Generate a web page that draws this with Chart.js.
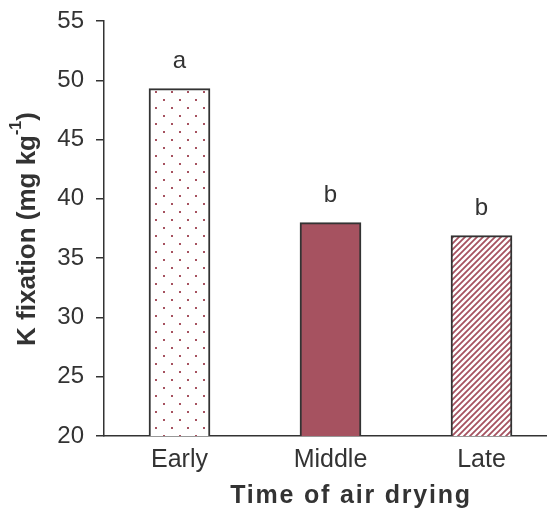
<!DOCTYPE html>
<html lang="en">
<head>
    <meta charset="UTF-8">
    <title>K fixation</title>
    <script src="https://cdn.jsdelivr.net/npm/chart.js"></script>
    <style>
        body { margin: 0; overflow: hidden; background: #fff; }
    </style>
</head>
<body>
    <canvas id="barChart" width="557" height="513"></canvas>
    <script>
        // data
        const categories = ['Early', 'Middle', 'Late'];
        const kFixation = [49.3, 38.0, 36.9];
        const letters = ['a', 'b', 'b'];
        const yTicks = [20, 25, 30, 35, 40, 45, 50, 55];

        const ink = '#333333';
        const red = '#A65260';
        const fam = '"Liberation Sans", Arial, sans-serif';

        // dotted fill
        function dotPattern() {
            const c = document.createElement('canvas');
            c.width = 16; c.height = 16;
            const g = c.getContext('2d');
            g.fillStyle = '#fff';
            g.fillRect(0, 0, 16, 16);
            g.fillStyle = red;
            g.fillRect(3, 3, 2, 2);
            g.fillRect(11, 11, 2, 2);
            return g.createPattern(c, 'repeat');
        }

        // diagonal hatch
        function hatchPattern() {
            const s = 6;
            const c = document.createElement('canvas');
            c.width = s; c.height = s;
            const g = c.getContext('2d');
            g.fillStyle = '#fff';
            g.fillRect(0, 0, s, s);
            g.strokeStyle = red;
            g.lineWidth = 1.8;
            g.beginPath();
            g.moveTo(0, s); g.lineTo(s, 0);
            g.moveTo(-1, 1); g.lineTo(1, -1);
            g.moveTo(s - 1, s + 1); g.lineTo(s + 1, s - 1);
            g.stroke();
            return g.createPattern(c, 'repeat');
        }

        // letters over bars + axis titles
        const extras = {
            id: 'extras',
            afterDatasetsDraw(chart) {
                const ctx = chart.ctx;
                const meta = chart.getDatasetMeta(0);
                ctx.save();
                ctx.fillStyle = ink;
                ctx.font = '24px ' + fam;
                ctx.textAlign = 'center';
                ctx.textBaseline = 'alphabetic';
                meta.data.forEach((bar, i) => {
                    ctx.fillText(letters[i], bar.x, bar.y - 21);
                });

                // x title
                ctx.font = 'bold 25px ' + fam;
                ctx.letterSpacing = '1.8px';
                ctx.textBaseline = 'middle';
                ctx.fillText('Time of air drying', 351, 496);

                // y title with superscript
                ctx.letterSpacing = '0px';
                ctx.translate(28, 229);
                ctx.rotate(-Math.PI / 2);
                const main = 'K fixation (mg kg';
                const sup = '-1';
                const tail = ')';
                const f1 = 'bold 26px ' + fam;
                const f2 = 'bold 16px ' + fam;
                ctx.font = f1;
                const w1 = ctx.measureText(main).width;
                const w3 = ctx.measureText(tail).width;
                ctx.font = f2;
                const w2 = ctx.measureText(sup).width;
                let x = -(w1 + w2 + w3) / 2;
                ctx.textAlign = 'left';
                ctx.font = f1;
                ctx.fillText(main, x, 0);
                x += w1;
                ctx.font = f2;
                ctx.fillText(sup, x, -11);
                x += w2;
                ctx.font = f1;
                ctx.fillText(tail, x, 0);
                ctx.restore();
            }
        };

        const ctx = document.getElementById('barChart').getContext('2d');
        new Chart(ctx, {
            type: 'bar',
            data: {
                labels: categories,
                datasets: [{
                    data: kFixation,
                    backgroundColor: [dotPattern(), red, hatchPattern()],
                    borderColor: ink,
                    borderWidth: 2,
                    borderSkipped: false,
                    barThickness: 61
                }]
            },
            options: {
                responsive: false,
                animation: false,
                layout: { padding: { top: 21, left: 0, right: 0, bottom: 0 } },
                plugins: {
                    legend: { display: false },
                    tooltip: { enabled: false }
                },
                scales: {
                    x: {
                        grid: { display: false },
                        border: { color: ink, width: 1.5 },
                        ticks: {
                            color: ink,
                            padding: 1,
                            font: { family: fam, size: 25 }
                        },
                        afterFit(scale) { scale.height = 77; }
                    },
                    y: {
                        min: 20,
                        max: 55,
                        afterBuildTicks(scale) {
                            scale.ticks = yTicks.map(v => ({ value: v }));
                        },
                        grid: {
                            drawOnChartArea: false,
                            drawTicks: true,
                            tickLength: 8,
                            color: ink,
                            lineWidth: 1.5
                        },
                        border: { color: ink, width: 1.5 },
                        ticks: {
                            color: ink,
                            padding: 12,
                            font: { family: fam, size: 24 }
                        },
                        afterFit(scale) {
                            scale.width = 104;
                            scale.paddingTop = 0;
                            scale.paddingBottom = 0;
                        }
                    }
                }
            },
            plugins: [extras]
        });
    </script>
</body>
</html>
